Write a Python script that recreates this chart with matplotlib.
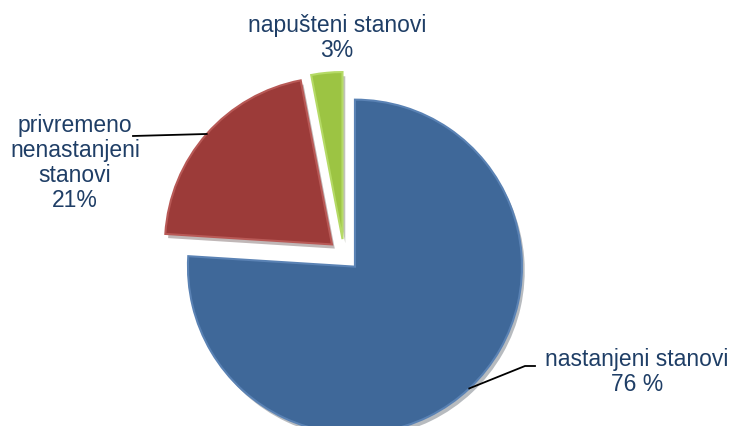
import numpy as np
import matplotlib.pyplot as plt
import matplotlib.patheffects as pe

plt.rcParams['font.family'] = ['Liberation Sans', 'DejaVu Sans']

names = ['nastanjeni stanovi', 'privremeno\nnenastanjeni\nstanovi', 'napušteni stanovi']
values = [76, 21, 3]
pct_labels = ['76 %', '21%', '3%']
colors = ['#3F6899', '#9C3B39', '#9CC443']
edge_colors = ['#5A82B4', '#B85956', '#B5DA66']

W, H = 735, 427
fig = plt.figure(figsize=(W / 100, H / 100), dpi=100)
ax = fig.add_axes([0, 0, 1, 1])

cx, cy, r = 344, 171, 167
wedges, _ = ax.pie(values, colors=colors, startangle=90, counterclock=False,
                   explode=[16, 16, 16], radius=r, center=(cx, cy),
                   wedgeprops=dict(linewidth=1.5))
for w, ec in zip(wedges, edge_colors):
    w.set_edgecolor(ec)
    w.set_path_effects([pe.SimplePatchShadow(offset=(2, -3), alpha=0.3), pe.Normal()])

ax.set_xlim(0, W)
ax.set_ylim(0, H)
ax.set_aspect('equal')
ax.axis('off')

txt = dict(color='#1F3E66', fontsize=16.5, ha='center', va='center', linespacing=1.12)

def edge_point(w):
    a = np.deg2rad((w.theta1 + w.theta2) / 2)
    return w.center[0] + w.r * np.cos(a), w.center[1] + w.r * np.sin(a)

# nastanjeni
ax.text(637, 55, names[0] + '\n' + pct_labels[0], **txt)
px, py = edge_point(wedges[0])
ax.plot([px, 525, 535], [py, 60, 60], color='black', lw=1.3)

# privremeno nenastanjeni
ax.text(75, 264, names[1] + '\n' + pct_labels[1], **txt)
px, py = edge_point(wedges[1])
ax.plot([px, 133], [py, 290], color='black', lw=1.3)

# napušteni
ax.text(337, 389, names[2] + '\n' + pct_labels[2], **txt)

fig.savefig('out.png', dpi=100)
